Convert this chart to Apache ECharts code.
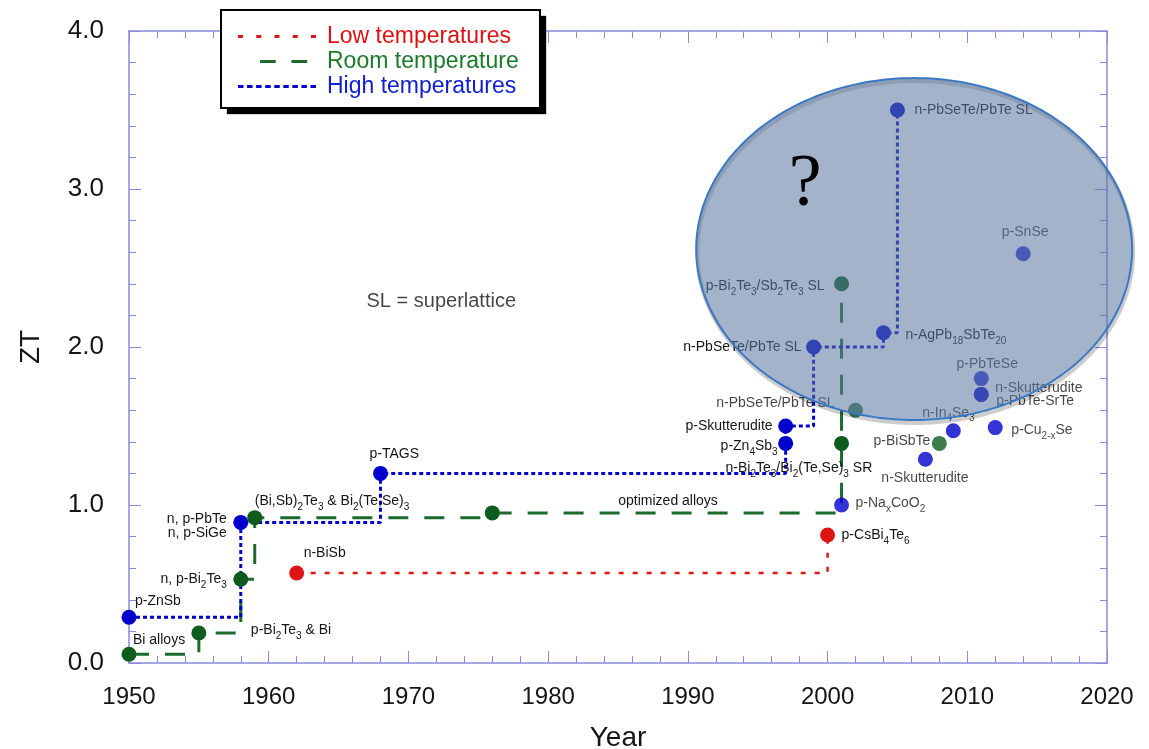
<!DOCTYPE html>
<html><head><meta charset="utf-8">
<script src="https://cdn.jsdelivr.net/npm/echarts@6/dist/echarts.min.js"></script>
<style>html,body{margin:0;padding:0;background:#fff}#c{width:1149px;height:749px}</style>
</head><body><div id="c"></div>
<script>
// ---------------- data ----------------
const lowTrackYears = [1962, 2000];
const lowTrackZT    = [0.57, 0.81];
const lowTrackNames = ['n-BiSb', 'p-CsBi{s|4}Te{s|6}'];

const roomTrackYears = [1950, 1955, 1958, 1959, 1976, 2001, 2001];
const roomTrackZT    = [0.055, 0.19, 0.53, 0.92, 0.95, 1.39, 2.40];
const roomTrackNames = ['Bi alloys', 'p-Bi{s|2}Te{s|3} & Bi', 'n, p-Bi{s|2}Te{s|3}',
  '(Bi,Sb){s|2}Te{s|3} & Bi{s|2}(Te,Se){s|3}', 'optimized alloys',
  'n-Bi{s|2}Te{s|3}/Bi{s|2}(Te,Se){s|3} SR', 'p-Bi{s|2}Te{s|3}/Sb{s|2}Te{s|3} SL'];

const roomOtherYears = [2002, 2008];
const roomOtherZT    = [1.60, 1.39];
const roomOtherNames = ['n-PbSeTe/PbTe SL', 'p-BiSbTe'];

const highTrackYears = [1950, 1958, 1968, 1997, 1997, 1999, 2004, 2005];
const highTrackZT    = [0.29, 0.89, 1.20, 1.39, 1.50, 2.00, 2.09, 3.50];
const highTrackNames = ['p-ZnSb', 'n, p-PbTe\nn, p-SiGe', 'p-TAGS', 'p-Zn{s|4}Sb{s|3}',
  'p-Skutterudite', 'n-PbSeTe/PbTe SL', 'n-AgPb{s|18}SbTe{s|20}', 'n-PbSeTe/PbTe SL'];

const highOtherYears = [2001, 2007, 2009, 2011, 2011, 2011, 2012, 2014];
const highOtherZT    = [1.00, 1.29, 1.47, 1.70, 1.70, 1.80, 1.49, 2.59];
const highOtherNames = ['p-Na{s|x}CoO{s|2}', 'n-Skutterudite', 'n-In{s|4}Se{s|3}', 'n-Skutterudite',
  'p-PbTe-SrTe', 'p-PbTeSe', 'p-Cu{s|2-x}Se', 'p-SnSe'];

const yTickLabels = ['0.0', '1.0', '2.0', '3.0', '4.0'];
const seriesNames = ['Low temperatures', 'Room temperature', 'High temperatures'];

const noteYears = [1967.0];
const noteZT    = [2.285];
const noteTexts = ['SL = superlattice'];

// "unknown" region: centre (year, ZT), half width (years), half height (ZT), "?" position
const regionCenter = [2006.2, 2.62];
const regionHalf   = [15.6, 1.082];
const questionAt   = [1998.4, 3.02];

// ---------------- label placement (align, dx, dy in px) ----------------
const lowPlace = [['left', 7, -20], ['left', 14, 0]];
const roomPlace = [['left', 4, -14], ['left', 52, -3], ['right', -14, 0], ['left', 0, -16],
  ['left', 126, -12], ['left', -116, 25], ['right', -17, 2]];
const roomOtherPlace = [['right', -21, -7], ['right', -9, -2]];
const highPlace = [['left', 6, -16], ['right', -14, 4], ['left', -11, -19], ['right', -8, 3],
  ['right', -13, 0], ['right', -12, 0], ['left', 22, 2], ['left', 17, 0]];
const highOtherPlace = [['left', 14, -2], ['left', -44, 19], ['left', -31, -18], ['left', 14, -6],
  ['left', 15, 7], ['center', 6, -14], ['left', 16, 3], ['center', 2, -22]];

// ---------------- styles ----------------
const FONT = "'Liberation Sans', Arial, Helvetica, sans-serif";
const RED = '#dd1515', GREEN_PT = '#0d5c1e', GREEN_LN = '#1b6c2c', BLUE = '#0000cc';
const FRAME = '#8a8ada';
const TXT = '#151515';

function build(years, zts, names, places) {
  return years.map((y, i) => ({
    value: [y, zts[i]],
    label: { formatter: names[i], align: places[i][0], offset: [places[i][1], places[i][2]] }
  }));
}

const pointLabel = {
  show: true, position: 'inside', verticalAlign: 'middle',
  fontSize: 14, lineHeight: 14, color: TXT, fontFamily: FONT,
  rich: { s: { fontSize: 10, color: TXT, fontFamily: FONT, padding: [12, 0, 0, 0] } }
};

function dashIcon(starts, w, total, h) {
  let p = 'path://M0 ' + (h / 2) + ' L0.01 ' + (h / 2) + ' ';
  starts.forEach(s => { p += 'M' + s + ' 0 L' + (s + w) + ' 0 L' + (s + w) + ' ' + h + ' L' + s + ' ' + h + ' Z '; });
  p += 'M' + total + ' ' + (h / 2) + ' L' + (total + 0.01) + ' ' + (h / 2);
  return p;
}
const redIcon = dashIcon([0, 18.25, 36.5, 54.75, 73], 5, 84, 3);
const greenIcon = dashIcon([18.7, 55.3], 18.4, 84, 3.5);
const blueIcon = dashIcon([0, 9.06, 18.12, 27.18, 36.24, 45.3, 54.36, 63.42, 72.48], 5.5, 84, 3);

const xAxisBase = {
  type: 'value', min: 1950, max: 2020, interval: 10,
  axisLine: { show: true, onZero: false, lineStyle: { color: FRAME, width: 1.5 } },
  axisTick: { show: true, inside: true, length: 12, lineStyle: { color: FRAME, width: 1 } },
  minorTick: { show: true, splitNumber: 5, length: 7, lineStyle: { color: FRAME, width: 1 } },
  splitLine: { show: false }, minorSplitLine: { show: false }
};
const yAxisBase = {
  type: 'value', min: 0, max: 4, interval: 1,
  axisLine: { show: true, onZero: false, lineStyle: { color: FRAME, width: 1.5 } },
  axisTick: { show: true, inside: true, length: 12, lineStyle: { color: FRAME, width: 1 } },
  minorTick: { show: true, splitNumber: 5, length: 7, lineStyle: { color: FRAME, width: 1 } },
  splitLine: { show: false }, minorSplitLine: { show: false }
};

const chart = echarts.init(document.getElementById('c'), null, { renderer: 'canvas' });
chart.setOption({
  animation: false,
  backgroundColor: '#ffffff',
  grid: { left: 129, right: 42, top: 31, bottom: 86, containLabel: false, outerBoundsMode: 'none' },
  xAxis: [
    Object.assign({}, xAxisBase, {
      position: 'bottom',
      axisLabel: { show: true, fontSize: 24, color: TXT, fontFamily: FONT, margin: 22,
        formatter: v => String(v) },
      name: 'Year', nameLocation: 'middle', nameGap: 61,
      nameTextStyle: { fontSize: 28, color: TXT, fontFamily: FONT }
    }),
    Object.assign({}, xAxisBase, { position: 'top', axisLabel: { show: false } })
  ],
  yAxis: [
    Object.assign({}, yAxisBase, {
      position: 'left',
      axisLabel: { show: true, fontSize: 26, color: TXT, fontFamily: FONT, margin: 25,
        formatter: v => yTickLabels[Math.round(v)] },
      name: 'ZT', nameLocation: 'middle', nameGap: 84, nameRotate: 90,
      nameTextStyle: { fontSize: 28, color: TXT, fontFamily: FONT }
    }),
    Object.assign({}, yAxisBase, { position: 'right', axisLabel: { show: false } })
  ],
  legend: {
    orient: 'vertical', left: 221, top: 10,
    padding: [14, 21, 9, 17],
    itemWidth: 84, itemHeight: 3, itemGap: 0,
    backgroundColor: '#ffffff', borderWidth: 0,
    shadowColor: '#000000', shadowOffsetX: 6, shadowOffsetY: 6, shadowBlur: 1,
    itemStyle: { borderWidth: 0 },
    textStyle: { fontSize: 23, lineHeight: 25, fontFamily: FONT },
    selectedMode: false,
    data: [
      { name: seriesNames[0], icon: redIcon, itemStyle: { color: RED }, textStyle: { color: '#dd1111' } },
      { name: seriesNames[1], icon: greenIcon, itemStyle: { color: GREEN_LN }, textStyle: { color: '#1a7a2a' } },
      { name: seriesNames[2], icon: blueIcon, itemStyle: { color: BLUE }, textStyle: { color: '#1020cc' } }
    ]
  },
  graphic: [
    // border of the legend box (drawn separately so the box shadow stays a clean offset block)
    { type: 'rect', z: 20, silent: true, shape: { x: 221, y: 10, width: 319, height: 98 },
      style: { fill: 'none', stroke: '#000000', lineWidth: 2 } }
  ],
  series: [
    {
      name: seriesNames[0], type: 'line', step: 'end', z: 2,
      data: build(lowTrackYears, lowTrackZT, lowTrackNames, lowPlace),
      symbol: 'circle', symbolSize: 15, showSymbol: true,
      itemStyle: { color: RED, borderWidth: 0 },
      lineStyle: { color: RED, width: 2.5, type: [5, 9] },
      label: pointLabel
    },
    {
      name: seriesNames[1], type: 'line', step: 'end', z: 2,
      data: build(roomTrackYears, roomTrackZT, roomTrackNames, roomPlace),
      symbol: 'circle', symbolSize: 15, showSymbol: true,
      itemStyle: { color: GREEN_PT, borderWidth: 0 },
      lineStyle: { color: GREEN_LN, width: 3, type: [20, 16] },
      label: pointLabel
    },
    {
      name: seriesNames[2], type: 'line', step: 'end', z: 2,
      data: build(highTrackYears, highTrackZT, highTrackNames, highPlace),
      symbol: 'circle', symbolSize: 15, showSymbol: true,
      itemStyle: { color: BLUE, borderWidth: 0 },
      lineStyle: { color: BLUE, width: 3, type: [4, 3] },
      label: pointLabel
    },
    {
      name: seriesNames[1], type: 'scatter', z: 2,
      data: build(roomOtherYears, roomOtherZT, roomOtherNames, roomOtherPlace),
      symbol: 'circle', symbolSize: 15, itemStyle: { color: GREEN_PT },
      label: pointLabel
    },
    {
      name: seriesNames[2], type: 'scatter', z: 2,
      data: build(highOtherYears, highOtherZT, highOtherNames, highOtherPlace),
      symbol: 'circle', symbolSize: 15, itemStyle: { color: BLUE },
      label: pointLabel
    },
    {
      type: 'scatter', z: 2, silent: true,
      data: noteYears.map((y, i) => ({ value: [y, noteZT[i]], label: { formatter: noteTexts[i] } })),
      symbolSize: 0,
      label: { show: true, position: 'inside', align: 'left', verticalAlign: 'middle',
        fontSize: 20, color: TXT, fontFamily: FONT }
    },
    {
      type: 'custom', z: 6, silent: true, clip: false,
      data: [[regionCenter[0], regionCenter[1], regionHalf[0], regionHalf[1], questionAt[0], questionAt[1]]],
      renderItem: function (params, api) {
        const c = api.coord([api.value(0), api.value(1)]);
        const s = api.size([api.value(2), api.value(3)]);
        const q = api.coord([api.value(4), api.value(5)]);
        const pts = [];
        for (let k = 0; k < 240; k++) {
          const t = k / 240 * Math.PI * 2;
          pts.push([c[0] + s[0] * Math.cos(t), c[1] + s[1] * Math.sin(t)]);
        }
        return {
          type: 'group',
          children: [
            { type: 'polygon', shape: { points: pts.map(p => [p[0] + 1, p[1] + 3]) },
              style: { fill: 'none', stroke: 'rgba(0,0,0,0.2)', lineWidth: 4 } },
            { type: 'polygon', shape: { points: pts },
              style: { fill: 'rgba(89,120,160,0.56)', stroke: '#3b78c2', lineWidth: 2 } },
            { type: 'text', style: { text: '?', x: q[0], y: q[1], fontSize: 74,
              fontFamily: "'Liberation Serif', 'Times New Roman', serif", fill: '#000',
              align: 'center', verticalAlign: 'middle' } }
          ]
        };
      }
    }
  ]
});
</script>
</body></html>
